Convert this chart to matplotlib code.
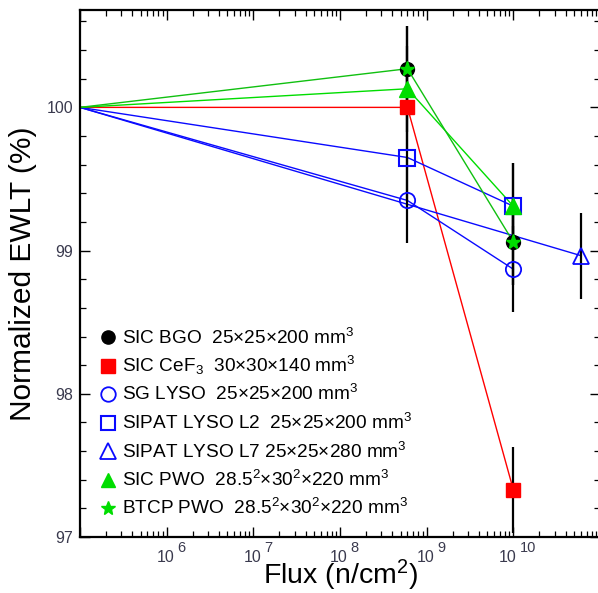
import matplotlib
matplotlib.use("Agg")
import matplotlib.pyplot as plt
from matplotlib.ticker import FixedLocator, NullFormatter, LogLocator
from matplotlib import transforms
import numpy as np

plt.rcParams["font.family"] = ["Liberation Sans", "DejaVu Sans"]
plt.rcParams["mathtext.fontset"] = "custom"
plt.rcParams["mathtext.rm"] = "Liberation Sans"
plt.rcParams["mathtext.it"] = "Liberation Sans:italic"
plt.rcParams["mathtext.bf"] = "Liberation Sans:bold"

# Fluence points (n/cm^2); the first point is the reference before irradiation
flux_ref = 1e5
flux_sic = [6e8, 1e10]
flux_l7 = [6e10]

# Normalized EWLT (%) after each fluence step
bgo = [100.27, 99.06]
cef3 = [100.0, 97.33]
sg_lyso = [99.35, 98.87]
sipat_l2 = [99.65, 99.31]
sipat_l7 = [98.965]
sic_pwo = [100.13, 99.31]
btcp_pwo = [100.27, 99.06]
err = 0.3

labels = [
    r"SIC BGO  25$\times$25$\times$200 mm$^{3}$",
    r"SIC CeF$_{3}$  30$\times$30$\times$140 mm$^{3}$",
    r"SG LYSO  25$\times$25$\times$200 mm$^{3}$",
    r"SIPAT LYSO L2  25$\times$25$\times$200 mm$^{3}$",
    r"SIPAT LYSO L7 25$\times$25$\times$280 mm$^{3}$",
    r"SIC PWO  28.5$^{2}$$\times$30$^{2}$$\times$220 mm$^{3}$",
    r"BTCP PWO  28.5$^{2}$$\times$30$^{2}$$\times$220 mm$^{3}$",
]

blue = "#0a0aff"
green = "#00dd00"
red = "#ff0000"

series = [
    (flux_sic, bgo, dict(color="black", marker="o", mfc="black", mec="black", ms=10), None),
    (flux_sic, cef3, dict(color=red, marker="s", mfc=red, mec=red, ms=10), red),
    (flux_sic, sg_lyso, dict(color=blue, marker="o", mfc="none", mec=blue, ms=11, mew=1.3), blue),
    (flux_sic, sipat_l2, dict(color=blue, marker="s", mfc="none", mec=blue, ms=11, mew=1.5), blue),
    (flux_l7, sipat_l7, dict(color=blue, marker="^", mfc="none", mec=blue, ms=12, mew=1.3), blue),
    (flux_sic, sic_pwo, dict(color=green, marker="^", mfc=green, mec=green, ms=11), green),
    (flux_sic, btcp_pwo, dict(color=green, marker="*", mfc=green, mec=green, ms=11), "#10c010"),
]

W, H = 598, 593
fig = plt.figure(figsize=(W / 100, H / 100), dpi=100)
ax = fig.add_axes([80 / W, 1 - 537 / H, 520 / W, 527 / H])

ax.set_xscale("log")
ax.set_xlim(1e5, 1e11)
ax.set_ylim(97, 100.68)

# connecting lines from the reference point
for xs, ys, st, lc in series:
    if lc is None:
        continue
    ax.plot([flux_ref] + xs, [100.0] + ys, color=lc, lw=1.0, zorder=2)

# error bars
for xs, ys, st, lc in series:
    ax.errorbar(xs, ys, yerr=err, fmt="none", ecolor="black", elinewidth=1.6,
                capsize=0, zorder=3)

# markers
for xs, ys, st, lc in series:
    kw = dict(st)
    kw.pop("color")
    ax.plot(xs, ys, linestyle="none", zorder=4, **kw)

# axes styling
for sp in ax.spines.values():
    sp.set_linewidth(1.6)
ax.tick_params(which="both", direction="in", top=True, right=True,
               colors="black", labelcolor="#3a3a4e")
ax.tick_params(which="major", length=7, width=1.0, labelsize=11.5)
ax.tick_params(which="minor", length=4, width=0.9)

ax.yaxis.set_major_locator(FixedLocator([97, 98, 99, 100]))
ax.yaxis.set_minor_locator(FixedLocator(np.arange(97, 100.7, 0.2)))
ax.tick_params(axis="y", which="major", pad=5)

ax.xaxis.set_major_locator(LogLocator(base=10, numticks=20))
ax.xaxis.set_minor_locator(LogLocator(base=10, subs=np.arange(2, 10), numticks=20))
ax.xaxis.set_major_formatter(NullFormatter())
ax.xaxis.set_minor_formatter(NullFormatter())

# decade labels with a large raised exponent
tb = transforms.blended_transform_factory(ax.transData, ax.transAxes)
for e in range(6, 11):
    x = 10.0 ** e
    nd = len(str(e))
    total = 17 + 3 + 8.5 * nd
    left = 5 - total / 2
    t1 = transforms.offset_copy(tb, fig=fig, x=(left + 17) * 0.72, y=-25 * 0.72, units="points")
    ax.text(x, 0, "10", transform=t1, ha="right", va="baseline", fontsize=11.5,
            color="#3a3a4e")
    t2 = transforms.offset_copy(tb, fig=fig, x=(left + 20) * 0.72, y=-15 * 0.72, units="points")
    ax.text(x, 0, str(e), transform=t2, ha="left", va="baseline", fontsize=10.5,
            color="#3a3a4e")

ax.set_ylabel("Normalized EWLT (%)", fontsize=21.5, labelpad=7)
ax.set_xlabel(r"Flux (n/cm$^{2}$)", fontsize=20.5, labelpad=11.5)

# legend entries
row0 = 337
step = 28.5
for i, ((xs, ys, st, lc), lab) in enumerate(zip(series, labels)):
    yc = (537 - (row0 + i * step)) / 527
    kw = dict(st)
    kw.pop("color")
    kw["ms"] = kw["ms"] * 0.95
    ax.plot([(108 - 80) / 520], [yc], transform=ax.transAxes, linestyle="none",
            clip_on=False, **kw)
    yb = (537 - (row0 + i * step + 6.5)) / 527
    ax.text((122 - 80) / 520, yb, lab, transform=ax.transAxes, fontsize=13.7,
            ha="left", va="baseline", color="black")

fig.savefig("out.png", dpi=100)
